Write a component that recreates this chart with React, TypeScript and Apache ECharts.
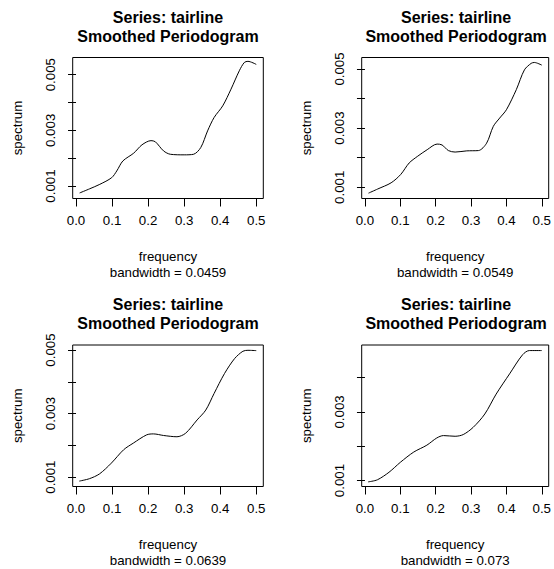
import React, { useEffect, useRef } from "react";
import * as echarts from "echarts";

const TITLE_LINE1 = "Series: tairline";
const TITLE_LINE2 = "Smoothed Periodogram";
const X_NAME = "frequency";
const Y_NAME = "spectrum";
const BANDWIDTHS = ["0.0459", "0.0549", "0.0639", "0.073"];

const TICKS_X = [0, 0.1, 0.2, 0.3, 0.4, 0.5];
const TICKS_Y = [0.001, 0.002, 0.003, 0.004, 0.005];
const LABELS_Y = [0.001, 0.003, 0.005];

const freq1 = [0.010, 0.038, 0.066, 0.099, 0.113, 0.13, 0.16, 0.183, 0.208, 0.22, 0.243, 0.262, 0.30, 0.326, 0.346, 0.365, 0.383, 0.407, 0.43, 0.453, 0.467, 0.477, 0.5];
const spec1 = [0.00075, 0.0009, 0.00106, 0.0013, 0.00154, 0.0019, 0.00218, 0.00248, 0.00263, 0.00259, 0.00226, 0.00214, 0.00212, 0.00214, 0.00238, 0.00298, 0.00346, 0.00388, 0.00448, 0.00514, 0.00544, 0.00548, 0.00537];

const freq2 = [0.010, 0.036, 0.074, 0.101, 0.125, 0.148, 0.176, 0.204, 0.218, 0.236, 0.255, 0.288, 0.321, 0.344, 0.363, 0.381, 0.40, 0.428, 0.451, 0.470, 0.479, 0.5];
const spec2 = [0.0008, 0.00094, 0.00115, 0.00143, 0.00182, 0.00204, 0.00227, 0.00246, 0.00243, 0.00224, 0.00219, 0.00223, 0.00224, 0.00249, 0.00306, 0.00334, 0.00362, 0.0043, 0.00497, 0.00519, 0.00522, 0.00513];

const freq3 = [0.009, 0.037, 0.065, 0.098, 0.132, 0.159, 0.196, 0.215, 0.243, 0.28, 0.304, 0.336, 0.36, 0.383, 0.412, 0.44, 0.463, 0.477, 0.5];
const spec3 = [0.000875, 0.00095, 0.0011, 0.00144, 0.00186, 0.00207, 0.00233, 0.00236, 0.00231, 0.00227, 0.00238, 0.0028, 0.00311, 0.00363, 0.00426, 0.00473, 0.00496, 0.00499, 0.00498];

const freq4 = [0.009, 0.035, 0.068, 0.10, 0.138, 0.175, 0.203, 0.222, 0.255, 0.278, 0.306, 0.339, 0.371, 0.409, 0.446, 0.465, 0.5];
const spec4 = [0.00096, 0.00102, 0.00124, 0.00153, 0.00183, 0.00203, 0.00224, 0.00231, 0.00229, 0.00234, 0.00255, 0.00294, 0.00352, 0.00411, 0.00467, 0.00479, 0.00479];

const FONT = "'Liberation Sans', Arial, Helvetica, sans-serif";

type Panel = {
  freq: number[];
  spec: number[];
  left: number;
  top: number;
  width: number;
  height: number;
  yMin: number;
  yMax: number;
};

const panels: Panel[] = [
  { freq: freq1, spec: spec1, left: 72.7, top: 57.5, width: 190.6, height: 141, yMin: 0.000551, yMax: 0.005618 },
  { freq: freq2, spec: spec2, left: 361.7, top: 57.5, width: 188.8, height: 141, yMin: 0.000619, yMax: 0.005388 },
  { freq: freq3, spec: spec3, left: 72.7, top: 345, width: 190.6, height: 141.7, yMin: 0.000705, yMax: 0.005157 },
  { freq: freq4, spec: spec4, left: 361.7, top: 345, width: 188.8, height: 141.7, yMin: 0.000825, yMax: 0.004952 },
];

export default function App() {
  const ref = useRef<HTMLDivElement>(null);
  useEffect(() => {
    if (!ref.current) return;
    const chart = echarts.init(ref.current, undefined, { renderer: "svg" });
    const grids: any[] = [];
    const xAxes: any[] = [];
    const yAxes: any[] = [];
    const series: any[] = [];
    const graphics: any[] = [];
    panels.forEach((p, i) => {
      grids.push({
        left: p.left,
        top: p.top,
        width: p.width,
        height: p.height,
        show: true,
        borderColor: "#000",
        borderWidth: 1,
        backgroundColor: "transparent",
        containLabel: false,
      });
      xAxes.push({
        type: "value",
        gridIndex: i,
        min: -0.0092,
        max: 0.5196,
        splitLine: { show: false },
        axisLine: { show: false },
        axisTick: { show: true, inside: false, length: 8, customValues: TICKS_X, lineStyle: { color: "#000", width: 1 } },
        axisLabel: {
          show: true,
          customValues: TICKS_X,
          formatter: (v: number) => v.toFixed(1),
          color: "#000",
          fontSize: 13.3,
          fontFamily: FONT,
          margin: 15,
        },
        name: X_NAME + "\nbandwidth = " + BANDWIDTHS[i],
        nameLocation: "middle",
        nameGap: 49.5,
        nameTextStyle: { color: "#000", fontSize: 13.3, fontFamily: FONT, lineHeight: 16 },
      });
      const yTicks = TICKS_Y.filter((v) => v >= p.yMin && v <= p.yMax);
      const yLabels = LABELS_Y.filter((v) => v >= p.yMin && v <= p.yMax);
      yAxes.push({
        type: "value",
        gridIndex: i,
        min: p.yMin,
        max: p.yMax,
        splitLine: { show: false },
        axisLine: { show: false },
        axisTick: { show: true, inside: false, length: 8, customValues: yTicks, lineStyle: { color: "#000", width: 1 } },
        axisLabel: {
          show: true,
          customValues: yLabels,
          rotate: 90,
          formatter: (v: number) => v.toFixed(3),
          color: "#000",
          fontSize: 13.3,
          fontFamily: FONT,
          margin: 16,
        },
        name: Y_NAME,
        nameLocation: "middle",
        nameGap: 49,
        nameTextStyle: { color: "#000", fontSize: 13.3, fontFamily: FONT },
      });
      series.push({
        type: "line",
        xAxisIndex: i,
        yAxisIndex: i,
        data: p.freq.map((f, k) => [f, p.spec[k]]),
        showSymbol: false,
        smooth: 0.3,
        lineStyle: { color: "#000", width: 1 },
        silent: true,
      });
      const cx = p.left + p.width / 2;
      graphics.push({
        type: "text",
        x: cx,
        y: p.top - 50,
        style: {
          text: TITLE_LINE1 + "\n" + TITLE_LINE2,
          fill: "#000",
          font: "bold 16px " + FONT,
          lineHeight: 19.3,
          textAlign: "center",
          textVerticalAlign: "top",
        },
      });
    });
    chart.setOption({
      animation: false,
      backgroundColor: "#fff",
      grid: grids,
      xAxis: xAxes,
      yAxis: yAxes,
      series,
      graphic: graphics,
    });
    return () => chart.dispose();
  }, []);
  return (
    <div
      ref={ref}
      style={{ position: "fixed", left: 0, top: 0, width: 554, height: 569, background: "#fff" }}
    />
  );
}
